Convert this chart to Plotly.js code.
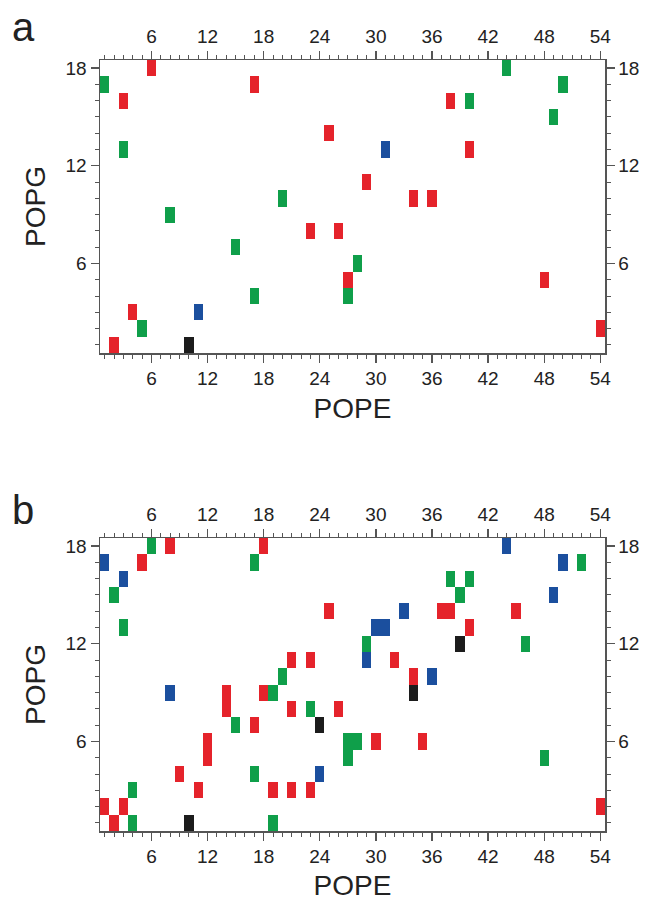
<!DOCTYPE html>
<html>
<head>
<meta charset="utf-8">
<script src="https://cdn.plot.ly/plotly-3.0.1.min.js"></script>
<style>html,body{margin:0;padding:0;background:#fff;}</style>
</head>
<body>
<div id="chart" style="width:651px;height:901px;"></div>
<script>
// ---- Data (POPE index, POPG index) per colour ----
var popeIndex = Array.from({length:54}, function(_, i){ return i + 1; });
var popgIndex = Array.from({length:18}, function(_, i){ return i + 1; });
var tickVals = [6, 12, 18, 24, 30, 36, 42, 48, 54];
var tickValsY = [6, 12, 18];

// Panel a
var aRedX   = [6,3,17,25,38,40,29,34,36,23,26,27,48,54,4,2];
var aRedY   = [18,16,17,14,16,13,11,10,10,8,8,5,5,2,3,1];
var aGreenX = [1,3,44,50,40,49,20,8,15,17,28,27,5];
var aGreenY = [17,13,18,17,16,15,10,9,7,4,6,4,2];
var aBlueX  = [31,11];
var aBlueY  = [13,3];
var aBlackX = [10];
var aBlackY = [1];

// Panel b
var bRedX   = [8,5,18,25,21,23,37,38,45,40,32,34,26,30,35,54,14,14,18,21,17,12,12,9,11,19,21,23,1,3,2];
var bRedY   = [18,17,18,14,11,11,14,14,14,13,11,10,8,6,6,2,9,8,9,8,7,6,5,4,3,3,3,3,2,2,1];
var bGreenX = [6,2,3,17,20,52,38,40,39,29,46,27,28,27,48,19,23,15,17,4,4,19];
var bGreenY = [18,15,13,17,10,17,16,16,15,12,12,6,6,5,5,9,8,7,4,3,1,1];
var bBlueX  = [1,3,44,50,49,33,30,31,29,36,8,24];
var bBlueY  = [17,16,18,17,15,14,13,13,11,10,9,4];
var bBlackX = [39,34,24,10];
var bBlackY = [12,9,7,1];

var RED = '#e5232b', GREEN = '#0f9f4a', BLUE = '#1b4f9e', BLACK = '#1c1c1c';

function buildZ(groups) {
  var z = popgIndex.map(function(){ return popeIndex.map(function(){ return null; }); });
  groups.forEach(function(g, code) {
    g[0].forEach(function(x, i) { z[g[1][i] - 1][x - 1] = code; });
  });
  return z;
}

var colorscale = [[0, RED],[0.1667, RED],[0.1667, GREEN],[0.5, GREEN],[0.5, BLUE],[0.8333, BLUE],[0.8333, BLACK],[1, BLACK]];

var zA = buildZ([[aRedX,aRedY],[aGreenX,aGreenY],[aBlueX,aBlueY],[aBlackX,aBlackY]]);
var zB = buildZ([[bRedX,bRedY],[bGreenX,bGreenY],[bBlueX,bBlueY],[bBlackX,bBlackY]]);

var traces = [
  {type:'heatmap', x:popeIndex, y:popgIndex, z:zA, zmin:0, zmax:3, colorscale:colorscale, showscale:false, xaxis:'x', yaxis:'y', hoverongaps:false},
  {type:'heatmap', x:popeIndex, y:popgIndex, z:zB, zmin:0, zmax:3, colorscale:colorscale, showscale:false, xaxis:'x2', yaxis:'y2', hoverongaps:false},
  {type:'scatter', x:[], y:[], xaxis:'x3', yaxis:'y3', showlegend:false},
  {type:'scatter', x:[], y:[], xaxis:'x4', yaxis:'y4', showlegend:false}
];

var FONT = 'Liberation Sans, Arial, Helvetica, sans-serif';
var AX = '#555555';
var tickFont = {family: FONT, size: 19, color: '#222'};
var xDom = [100/651, 605/651];
var aDom = [1 - 353/901, 1 - 60/901];
var bDom = [1 - 831/901, 1 - 538/901];

function xAxis(opts) {
  var base = {
    range:[0.5, 54.5], domain:xDom, tickmode:'array', tickvals:tickVals,
    ticks:'outside', ticklen:8, tickwidth:1.3, tickcolor:AX,
    showline:true, linecolor:AX, linewidth:1.5, showgrid:false, zeroline:false,
    tickfont:tickFont, fixedrange:true,
    minor:{dtick:1, tick0:0, ticks:'outside', ticklen:4, tickwidth:1, tickcolor:AX, showgrid:false}
  };
  return Object.assign(base, opts);
}
function yAxis(opts) {
  var base = {
    range:[0.5, 18.5], tickmode:'array', tickvals:tickValsY,
    ticks:'outside', ticklen:8, tickwidth:1.3, tickcolor:AX,
    showline:true, linecolor:AX, linewidth:1.5, showgrid:false, zeroline:false,
    tickfont:tickFont, fixedrange:true,
    minor:{dtick:1, tick0:0, ticks:'outside', ticklen:4, tickwidth:1, tickcolor:AX, showgrid:false}
  };
  return Object.assign(base, opts);
}

var titleFont = {family: FONT, size: 28, color: '#222'};

var layout = {
  width:651, height:901,
  margin:{l:0, r:0, t:0, b:0},
  paper_bgcolor:'#ffffff', plot_bgcolor:'#ffffff',
  showlegend:false,
  xaxis:  xAxis({anchor:'y', side:'bottom', title:{text:'POPE', font:titleFont, standoff:10}}),
  yaxis:  yAxis({anchor:'x', domain:aDom, side:'left', title:{text:'POPG', font:titleFont, standoff:12}}),
  xaxis3: xAxis({overlaying:'x', anchor:'y', side:'top'}),
  yaxis3: yAxis({overlaying:'y', anchor:'x', domain:aDom, side:'right'}),
  xaxis2: xAxis({anchor:'y2', side:'bottom', title:{text:'POPE', font:titleFont, standoff:10}}),
  yaxis2: yAxis({anchor:'x2', domain:bDom, side:'left', title:{text:'POPG', font:titleFont, standoff:12}}),
  xaxis4: xAxis({overlaying:'x2', anchor:'y2', side:'top'}),
  yaxis4: yAxis({overlaying:'y2', anchor:'x2', domain:bDom, side:'right'}),
  annotations:[
    {text:'a', xref:'paper', yref:'paper', x:10/651, y:1-27/901, xanchor:'left', yanchor:'middle', showarrow:false, font:{family:FONT, size:40, color:'#222'}},
    {text:'b', xref:'paper', yref:'paper', x:10/651, y:1-510/901, xanchor:'left', yanchor:'middle', showarrow:false, font:{family:FONT, size:40, color:'#222'}}
  ]
};

Plotly.newPlot('chart', traces, layout, {staticPlot:true, displayModeBar:false});
</script>
</body>
</html>
